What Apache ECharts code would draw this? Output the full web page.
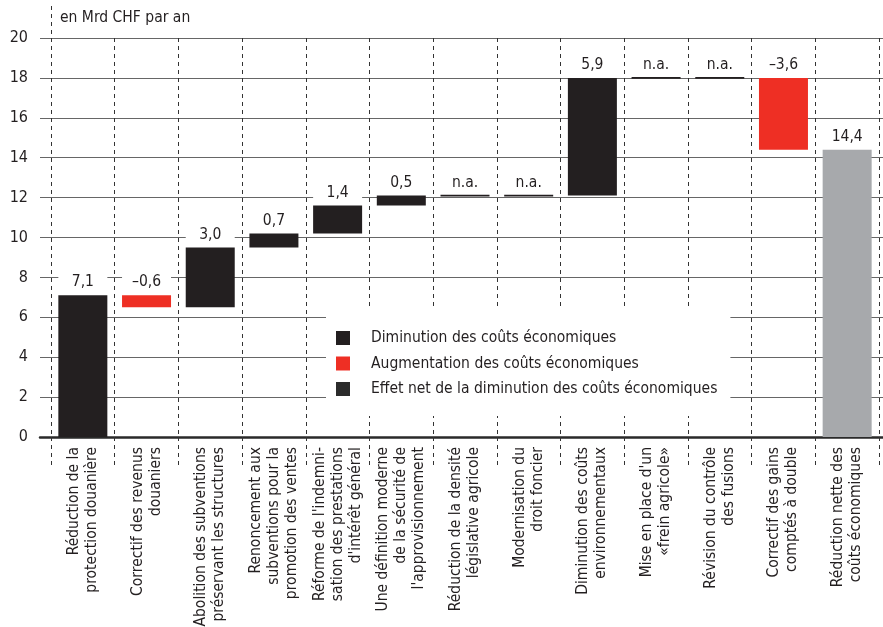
<!DOCTYPE html>
<html>
<head>
<meta charset="utf-8">
<script src="https://cdn.jsdelivr.net/npm/echarts@6/dist/echarts.min.js"></script>
<style>
  html, body { margin: 0; padding: 0; background: #fff; }
  #chart { width: 883px; height: 627px; }
</style>
</head>
<body>
<div id="chart"></div>
<script>
// Measures (x axis categories)
const categories = [
  "Réduction de la\nprotection douanière",
  "Correctif des revenus\ndouaniers",
  "Abolition des subventions\npréservant les structures",
  "Renoncement aux\nsubventions pour la\npromotion des ventes",
  "Réforme de l'indemni-\nsation des prestations\nd'intérêt général",
  "Une définition moderne\nde la sécurité de\nl'approvisionnement",
  "Réduction de la densité\nlégislative agricole",
  "Modernisation du\ndroit foncier",
  "Diminution des coûts\nenvironnementaux",
  "Mise en place d'un\n«frein agricole»",
  "Révision du contrôle\ndes fusions",
  "Correctif des gains\ncomptés à double",
  "Réduction nette des\ncoûts économiques"
];
// Effect of each measure in Mrd CHF per year (null = n.a.)
const effects = [7.1, -0.6, 3.0, 0.7, 1.4, 0.5, null, null, 5.9, null, null, -3.6];
// Net total
const netTotal = 14.4;
const yTicks = { min: 0, max: 20, interval: 2 };

const seriesNames = [
  "Diminution des coûts économiques",
  "Augmentation des coûts économiques",
  "Effet net de la diminution des coûts économiques"
];

const INK = '#231f20', RED = '#ee2f24', GREY = '#a7a9ac';
const fmt = v => (v < 0 ? '–' : '') + Math.abs(v).toFixed(1).replace('.', ',');

// Waterfall decomposition
const base = [], down = [], up = [], net = [], naPts = [];
let level = 0;
effects.forEach((v, i) => {
  if (v === null) {
    base.push('-'); down.push('-'); up.push('-'); net.push('-');
    naPts.push([i, level]);
  } else if (v >= 0) {
    base.push(level); down.push(v); up.push('-'); net.push('-');
    level = +(level + v).toFixed(2);
  } else {
    level = +(level + v).toFixed(2);
    base.push(level); down.push('-'); up.push(-v); net.push('-');
  }
});
base.push(0); down.push('-'); up.push('-'); net.push(netTotal);

const FONT = 'DejaVu Sans Condensed';
const BAR_W = 49;
const valueLabel = {
  show: true,
  position: 'top',
  distance: 3,
  fontFamily: FONT,
  fontSize: 15.5,
  color: INK,
  opacity: 1,
  backgroundColor: '#fff',
  width: BAR_W,
  align: 'center',
  padding: [3, 0, 2, 0]
};

const chart = echarts.init(document.getElementById('chart'), null, { renderer: 'canvas' });
chart.setOption({
  animation: false,
  backgroundColor: '#fff',
  textStyle: { fontFamily: FONT, color: INK },
  title: {
    text: 'en Mrd CHF par an',
    left: 55, top: 5,
    textStyle: { fontFamily: FONT, fontSize: 15.5, fontWeight: 'normal', color: INK }
  },
  legend: {
    data: [
      { name: seriesNames[0], itemStyle: { color: INK } },
      { name: seriesNames[1], itemStyle: { color: RED } },
      { name: seriesNames[2], itemStyle: { color: '#2b2b2b' } }
    ],
    orient: 'vertical',
    left: 326, top: 310,
    backgroundColor: '#fff',
    padding: [20, 13, 19, 10],
    itemWidth: 14, itemHeight: 14, itemGap: 9.5,
    icon: 'rect',
    selectedMode: false,
    textStyle: { fontFamily: FONT, fontSize: 15.5, color: INK, padding: [0, 0, 0, 16] }
  },
  grid: [
    { left: 40, right: 0, top: 38, bottom: 190, outerBoundsMode: 'none', containLabel: false },
    { left: 51, right: 4, top: 38, bottom: 190, outerBoundsMode: 'none', containLabel: false }
  ],
  xAxis: [
    {
      gridIndex: 0, type: 'value', min: 0, max: 1,
      axisLine: { show: true, onZero: false, lineStyle: { color: '#2a2a2a', width: 2.5 } },
      axisTick: { show: false }, axisLabel: { show: false }, splitLine: { show: false }
    },
    {
      gridIndex: 1, type: 'category', data: categories, boundaryGap: true,
      axisLine: { show: false },
      axisTick: { show: true, length: 28, lineStyle: { color: '#333', width: 1, type: [4, 4] } },
      splitLine: { show: true, lineStyle: { color: '#333', width: 1, type: [4, 4] } },
      axisLabel: {
        interval: 0, rotate: 90, margin: 10,
        fontFamily: FONT, fontSize: 15.5, lineHeight: 18, color: INK
      }
    }
  ],
  yAxis: [
    {
      gridIndex: 0, type: 'value', min: yTicks.min, max: yTicks.max, interval: yTicks.interval,
      axisLine: { show: false }, axisTick: { show: false },
      axisLabel: { fontFamily: FONT, fontSize: 16, color: INK, margin: 12 },
      splitLine: { show: true, lineStyle: { color: '#666', width: 1.2 } }
    },
    {
      gridIndex: 1, type: 'value', min: yTicks.min, max: yTicks.max, interval: yTicks.interval,
      show: false, splitLine: { show: false }
    }
  ],
  graphic: [
    {
      type: 'line', z: 5,
      shape: { x1: 51.5, y1: 6, x2: 51.5, y2: 38 },
      style: { stroke: '#333', lineWidth: 1, lineDash: [4, 4] }
    }
  ],
  series: [
    {
      name: 'base', type: 'bar', stack: 'wf', xAxisIndex: 1, yAxisIndex: 1,
      barWidth: BAR_W, data: base, silent: true,
      itemStyle: { color: 'transparent' }
    },
    {
      name: seriesNames[0], type: 'bar', stack: 'wf', xAxisIndex: 1, yAxisIndex: 1,
      barWidth: BAR_W, data: down, itemStyle: { color: INK },
      label: Object.assign({}, valueLabel, { formatter: p => fmt(p.value) })
    },
    {
      name: seriesNames[1], type: 'bar', stack: 'wf', xAxisIndex: 1, yAxisIndex: 1,
      barWidth: BAR_W, data: up, itemStyle: { color: RED },
      label: Object.assign({}, valueLabel, { formatter: p => fmt(-p.value) })
    },
    {
      name: seriesNames[2], type: 'bar', stack: 'wf', xAxisIndex: 1, yAxisIndex: 1,
      barWidth: BAR_W, data: net, itemStyle: { color: GREY },
      label: Object.assign({}, valueLabel, { formatter: p => fmt(p.value) })
    },
    {
      name: 'n.a.', type: 'scatter', xAxisIndex: 1, yAxisIndex: 1,
      data: naPts, symbol: 'rect', symbolSize: [BAR_W, 1.6],
      itemStyle: { color: INK, opacity: 1 }, silent: true,
      label: Object.assign({}, valueLabel, { formatter: 'n.a.', distance: 2 })
    }
  ]
});
</script>
</body>
</html>
